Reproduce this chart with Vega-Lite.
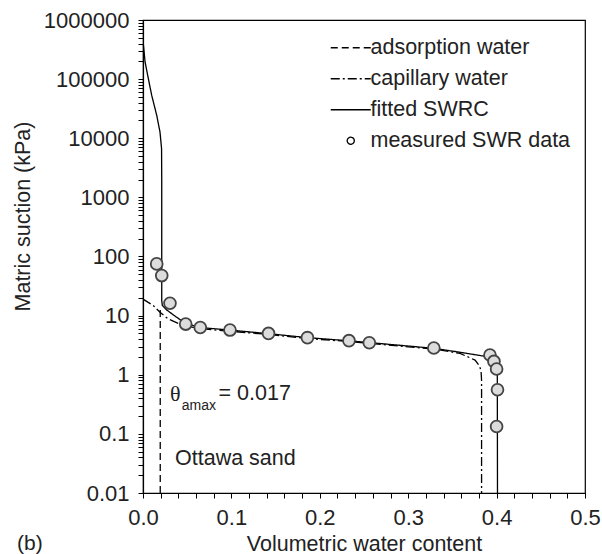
{
  "$schema": "https://vega.github.io/schema/vega-lite/v6.json",
  "width": 442,
  "height": 473,
  "autosize": "none",
  "padding": {"left": 143, "top": 20, "right": 17, "bottom": 61},
  "background": "white",
  "title": {"text": "(b)", "orient": "bottom", "anchor": "start", "frame": "bounds", "offset": -22, "dx": 5, "fontSize": 21, "fontWeight": "normal", "font": "Liberation Sans", "color": "#222"},
  "config": {
    "view": {"stroke": "black", "strokeWidth": 1.2},
    "axis": {
      "domainColor": "black", "tickColor": "black", "labelColor": "#222", "titleColor": "#222",
      "labelFont": "Liberation Sans", "titleFont": "Liberation Sans",
      "labelFontSize": 22, "titleFontSize": 21.5, "titleFontWeight": "normal",
      "grid": false, "tickSize": 5, "labelPadding": 9, "domainWidth": 1.2, "tickWidth": 1,
      "labelFlush": false, "labelOverlap": false
    },
    "legend": {
      "orient": "none", "legendX": 197, "legendY": 17,
      "symbolType": "M-4,0H4", "symbolSize": 100, "symbolStrokeWidth": 1.3, "symbolStrokeColor": "black",
      "labelFontSize": 21.5, "labelFont": "Liberation Sans", "labelColor": "#222", "labelOffset": 9, "labelLimit": 400,
      "rowPadding": 8, "padding": 0
    }
  },
  "datasets": {
    "curves": [
      {"series": "fitted SWRC", "i": 1, "theta": 0.0005, "suction": 380000},
      {"series": "fitted SWRC", "i": 2, "theta": 0.0023, "suction": 197000},
      {"series": "fitted SWRC", "i": 3, "theta": 0.006, "suction": 102600},
      {"series": "fitted SWRC", "i": 4, "theta": 0.0098, "suction": 53600},
      {"series": "fitted SWRC", "i": 5, "theta": 0.0155, "suction": 24500},
      {"series": "fitted SWRC", "i": 6, "theta": 0.0192, "suction": 12800},
      {"series": "fitted SWRC", "i": 7, "theta": 0.021, "suction": 6700},
      {"series": "fitted SWRC", "i": 8, "theta": 0.0212, "suction": 1800},
      {"series": "fitted SWRC", "i": 9, "theta": 0.0212, "suction": 17.9},
      {"series": "fitted SWRC", "i": 10, "theta": 0.0219, "suction": 14.8},
      {"series": "fitted SWRC", "i": 11, "theta": 0.0268, "suction": 12.5},
      {"series": "fitted SWRC", "i": 12, "theta": 0.0343, "suction": 10.3},
      {"series": "fitted SWRC", "i": 13, "theta": 0.0419, "suction": 8.55},
      {"series": "fitted SWRC", "i": 14, "theta": 0.0475, "suction": 7.5},
      {"series": "fitted SWRC", "i": 15, "theta": 0.0645, "suction": 6.3},
      {"series": "fitted SWRC", "i": 16, "theta": 0.098, "suction": 5.7},
      {"series": "fitted SWRC", "i": 17, "theta": 0.142, "suction": 4.95},
      {"series": "fitted SWRC", "i": 18, "theta": 0.186, "suction": 4.25},
      {"series": "fitted SWRC", "i": 19, "theta": 0.233, "suction": 3.75},
      {"series": "fitted SWRC", "i": 20, "theta": 0.256, "suction": 3.5},
      {"series": "fitted SWRC", "i": 21, "theta": 0.329, "suction": 2.8},
      {"series": "fitted SWRC", "i": 22, "theta": 0.3586, "suction": 2.4},
      {"series": "fitted SWRC", "i": 23, "theta": 0.3775, "suction": 2.16},
      {"series": "fitted SWRC", "i": 24, "theta": 0.389, "suction": 2.02},
      {"series": "fitted SWRC", "i": 25, "theta": 0.3945, "suction": 1.73},
      {"series": "fitted SWRC", "i": 26, "theta": 0.3993, "suction": 1.33},
      {"series": "fitted SWRC", "i": 27, "theta": 0.4008, "suction": 0.96},
      {"series": "fitted SWRC", "i": 28, "theta": 0.401, "suction": 0.01},
      {"series": "capillary water", "i": 1, "theta": 0.0, "suction": 19},
      {"series": "capillary water", "i": 2, "theta": 0.0116, "suction": 14.8},
      {"series": "capillary water", "i": 3, "theta": 0.0192, "suction": 11.4},
      {"series": "capillary water", "i": 4, "theta": 0.0286, "suction": 8.8},
      {"series": "capillary water", "i": 5, "theta": 0.0399, "suction": 7.4},
      {"series": "capillary water", "i": 6, "theta": 0.0483, "suction": 6.7},
      {"series": "capillary water", "i": 7, "theta": 0.0648, "suction": 6.0},
      {"series": "capillary water", "i": 8, "theta": 0.098, "suction": 5.45},
      {"series": "capillary water", "i": 9, "theta": 0.142, "suction": 4.8},
      {"series": "capillary water", "i": 10, "theta": 0.186, "suction": 4.1},
      {"series": "capillary water", "i": 11, "theta": 0.233, "suction": 3.65},
      {"series": "capillary water", "i": 12, "theta": 0.256, "suction": 3.4},
      {"series": "capillary water", "i": 13, "theta": 0.329, "suction": 2.72},
      {"series": "capillary water", "i": 14, "theta": 0.3586, "suction": 2.3},
      {"series": "capillary water", "i": 15, "theta": 0.3756, "suction": 1.77},
      {"series": "capillary water", "i": 16, "theta": 0.3805, "suction": 1.42},
      {"series": "capillary water", "i": 17, "theta": 0.3824, "suction": 1.17},
      {"series": "capillary water", "i": 18, "theta": 0.383, "suction": 0.8},
      {"series": "capillary water", "i": 19, "theta": 0.383, "suction": 0.01},
      {"series": "adsorption water", "i": 1, "theta": 0.0195, "suction": 0.01},
      {"series": "adsorption water", "i": 2, "theta": 0.0195, "suction": 13}
    ],
    "measured": [
      {"theta": 0.0155, "suction": 75},
      {"theta": 0.0212, "suction": 47.6},
      {"theta": 0.0305, "suction": 16.2},
      {"theta": 0.0483, "suction": 7.2},
      {"theta": 0.0648, "suction": 6.3},
      {"theta": 0.0984, "suction": 5.7},
      {"theta": 0.142, "suction": 5.0},
      {"theta": 0.186, "suction": 4.24},
      {"theta": 0.233, "suction": 3.77},
      {"theta": 0.256, "suction": 3.48},
      {"theta": 0.329, "suction": 2.84},
      {"theta": 0.3925, "suction": 2.16},
      {"theta": 0.397, "suction": 1.68},
      {"theta": 0.4, "suction": 1.25},
      {"theta": 0.401, "suction": 0.557},
      {"theta": 0.4, "suction": 0.133}
    ]
  },
  "encoding": {
    "x": {
      "field": "theta", "type": "quantitative",
      "scale": {"domain": [0, 0.5], "nice": false, "zero": false},
      "axis": {
        "title": "Volumetric water content", "titlePadding": 5,
        "values": [0, 0.02, 0.04, 0.06, 0.08, 0.1, 0.12, 0.14, 0.16, 0.18, 0.2, 0.22, 0.24, 0.26, 0.28, 0.3, 0.32, 0.34, 0.36, 0.38, 0.4, 0.42, 0.44, 0.46, 0.48, 0.5],
        "labelExpr": "abs(datum.value*10 - round(datum.value*10)) < 1e-6 ? format(datum.value, '.1f') : ''"
      }
    },
    "y": {
      "field": "suction", "type": "quantitative",
      "scale": {"type": "log", "domain": [0.01, 1000000], "nice": false},
      "axis": {
        "title": "Matric suction (kPa)", "titleX": -120, "titleY": 196, "titleAlign": "center", "titleBaseline": "middle", "titleAngle": -90,
        "values": [0.01,0.02,0.03,0.04,0.05,0.06,0.07,0.08,0.09,0.1,0.2,0.3,0.4,0.5,0.6,0.7,0.8,0.9,1,2,3,4,5,6,7,8,9,10,20,30,40,50,60,70,80,90,100,200,300,400,500,600,700,800,900,1000,2000,3000,4000,5000,6000,7000,8000,9000,10000,20000,30000,40000,50000,60000,70000,80000,90000,100000,200000,300000,400000,500000,600000,700000,800000,900000,1000000],
        "labelExpr": "abs(log(datum.value)/LN10 - round(log(datum.value)/LN10)) < 1e-6 ? format(datum.value, '~f') : ''"
      }
    }
  },
  "layer": [
    {
      "data": {"name": "curves"},
      "mark": {"type": "line", "color": "black", "strokeWidth": 1.3},
      "encoding": {
        "strokeDash": {
          "field": "series", "type": "nominal",
          "scale": {"domain": ["adsorption water", "capillary water", "fitted SWRC", "measured SWR data"], "range": [[7, 4], [9, 3, 2, 3], [1, 0], [1, 0]]},
          "legend": {
            "title": null,
            "encode": {"symbols": {"update": {
              "shape": {"signal": "datum.label === 'measured SWR data' ? 'circle' : 'M-4,0H4'"},
              "size": {"signal": "datum.label === 'measured SWR data' ? 50 : 100"},
              "fill": {"value": "white"},
              "stroke": {"value": "black"}
            }}}
          }
        },
        "order": {"field": "i", "type": "quantitative"}
      }
    },
    {
      "data": {"name": "measured"},
      "mark": {"type": "point", "shape": "circle", "filled": true, "fill": "#dcdcdc", "stroke": "#444", "strokeWidth": 1.8, "size": 140, "opacity": 1}
    },
    {
      "data": {"values": [{"label": "θ", "theta": 0.0305, "suction": 0.476}]},
      "mark": {"type": "text", "align": "left", "baseline": "middle", "fontSize": 22, "font": "Liberation Serif", "color": "#222"},
      "encoding": {"text": {"field": "label"}}
    },
    {
      "data": {"values": [{"label": "amax", "theta": 0.0438, "suction": 0.298}]},
      "mark": {"type": "text", "align": "left", "baseline": "middle", "fontSize": 14, "font": "Liberation Sans", "color": "#222"},
      "encoding": {"text": {"field": "label"}}
    },
    {
      "data": {"values": [{"label": "= 0.017", "theta": 0.0855, "suction": 0.476}]},
      "mark": {"type": "text", "align": "left", "baseline": "middle", "fontSize": 21.5, "font": "Liberation Sans", "color": "#222"},
      "encoding": {"text": {"field": "label"}}
    },
    {
      "data": {"values": [{"label": "Ottawa sand", "theta": 0.0362, "suction": 0.0377}]},
      "mark": {"type": "text", "align": "left", "baseline": "middle", "fontSize": 21.5, "font": "Liberation Sans", "color": "#222"},
      "encoding": {"text": {"field": "label"}}
    }
  ]
}
